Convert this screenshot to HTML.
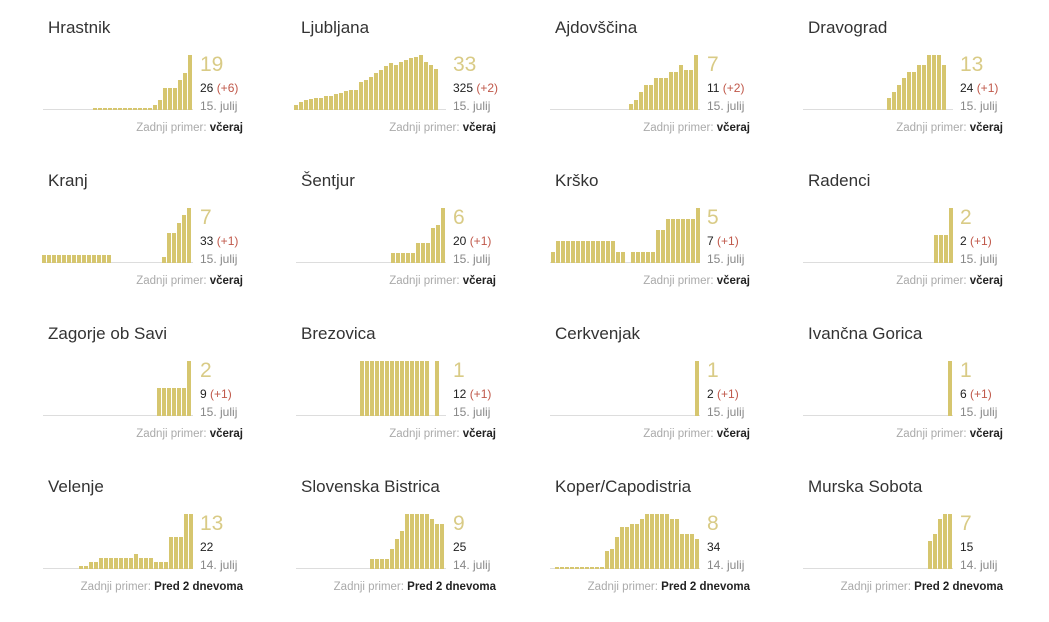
<!DOCTYPE html>
<html><head><meta charset="utf-8"><style>
body{margin:0;width:1049px;height:611px;background:#fff;font-family:"Liberation Sans",sans-serif;position:relative;overflow:hidden}
.c{position:absolute;width:253px;height:153px}
.t{position:absolute;left:0;top:8px;font-size:17px;color:#333}
.base{position:absolute;left:-5px;top:99px;width:150px;height:1px;background:#ddd}
.bar{position:absolute;width:4px;background:#d6c66f}
.big{position:absolute;left:152px;top:43px;font-size:21px;color:#d9cb86}
.n{position:absolute;left:152px;top:71px;font-size:12px;color:#222}
.n span{color:#c0584a}
.d{position:absolute;left:152px;top:89px;font-size:12px;color:#888}
.f{position:absolute;right:58px;top:112px;font-size:11.5px;color:#aaa;white-space:nowrap}
.f b{color:#222}
</style></head><body>
<script>
var cols=[48,301,555,808],rows=[10,163,316,469];
var D=[
["Hrastnik","19","26","+6","15. julij","včeraj",[2,2,2,2,2,2,2,2,2,2,2,2,5,10,22,22,22,30,37,55],145],
["Ljubljana","33","325","+2","15. julij","včeraj",[5,8,10,11,12,12,14,14,16,17,19,20,20,28,30,33,37,40,44,47,45,48,50,52,53,55,48,45,41],138],
["Ajdovščina","7","11","+2","15. julij","včeraj",[6,10,18,25,25,32,32,32,38,38,45,40,40,55],144],
["Dravograd","13","24","+1","15. julij","včeraj",[12,18,25,32,38,38,45,45,55,55,55,45],139],
["Kranj","7","33","+1","15. julij","včeraj",[8,8,8,8,8,8,8,8,8,8,8,8,8,8,0,0,0,0,0,0,0,0,0,0,6,30,30,40,48,55],144],
["Šentjur","6","20","+1","15. julij","včeraj",[10,10,10,10,10,20,20,20,35,38,55],145],
["Krško","5","7","+1","15. julij","včeraj",[11,22,22,22,22,22,22,22,22,22,22,22,22,11,11,0,11,11,11,11,11,33,33,44,44,44,44,44,44,55],146],
["Radenci","2","2","+1","15. julij","včeraj",[28,28,28,55],146],
["Zagorje ob Savi","2","9","+1","15. julij","včeraj",[28,28,28,28,28,28,55],144],
["Brezovica","1","12","+1","15. julij","včeraj",[55,55,55,55,55,55,55,55,55,55,55,55,55,55,0,55],139],
["Cerkvenjak","1","2","+1","15. julij","včeraj",[55],145],
["Ivančna Gorica","1","6","+1","15. julij","včeraj",[55],145],
["Velenje","13","22","","14. julij","Pred 2 dnevoma",[3,3,7,7,11,11,11,11,11,11,11,15,11,11,11,7,7,7,32,32,32,55,55],146],
["Slovenska Bistrica","9","25","","14. julij","Pred 2 dnevoma",[10,10,10,10,20,30,38,55,55,55,55,55,50,45,45],144],
["Koper/Capodistria","8","34","","14. julij","Pred 2 dnevoma",[2,2,2,2,2,2,2,2,2,2,18,20,32,42,42,45,45,50,55,55,55,55,55,50,50,35,35,35,30],145],
["Murska Sobota","7","15","","14. julij","Pred 2 dnevoma",[28,35,50,55,55],145]
];
var h="";
D.forEach(function(d,i){
 var x=cols[i%4],y=rows[Math.floor(i/4)];
 h+='<div class="c" style="left:'+x+'px;top:'+y+'px"><div class="t">'+d[0]+'</div><div class="base"></div>';
 var b=d[6],end=d[7],p=5;
 for(var k=0;k<b.length;k++){if(!b[k])continue;var bx=end-(b.length-k)*p;h+='<div class="bar" style="left:'+bx+'px;top:'+(100-b[k])+'px;height:'+b[k]+'px"></div>';}
 h+='<div class="big">'+d[1]+'</div><div class="n">'+d[2]+(d[3]?' <span>('+d[3]+')</span>':'')+'</div><div class="d">'+d[4]+'</div>';
 h+='<div class="f">Zadnji primer: <b>'+d[5]+'</b></div></div>';
});
document.write(h);
</script>
</body></html>
